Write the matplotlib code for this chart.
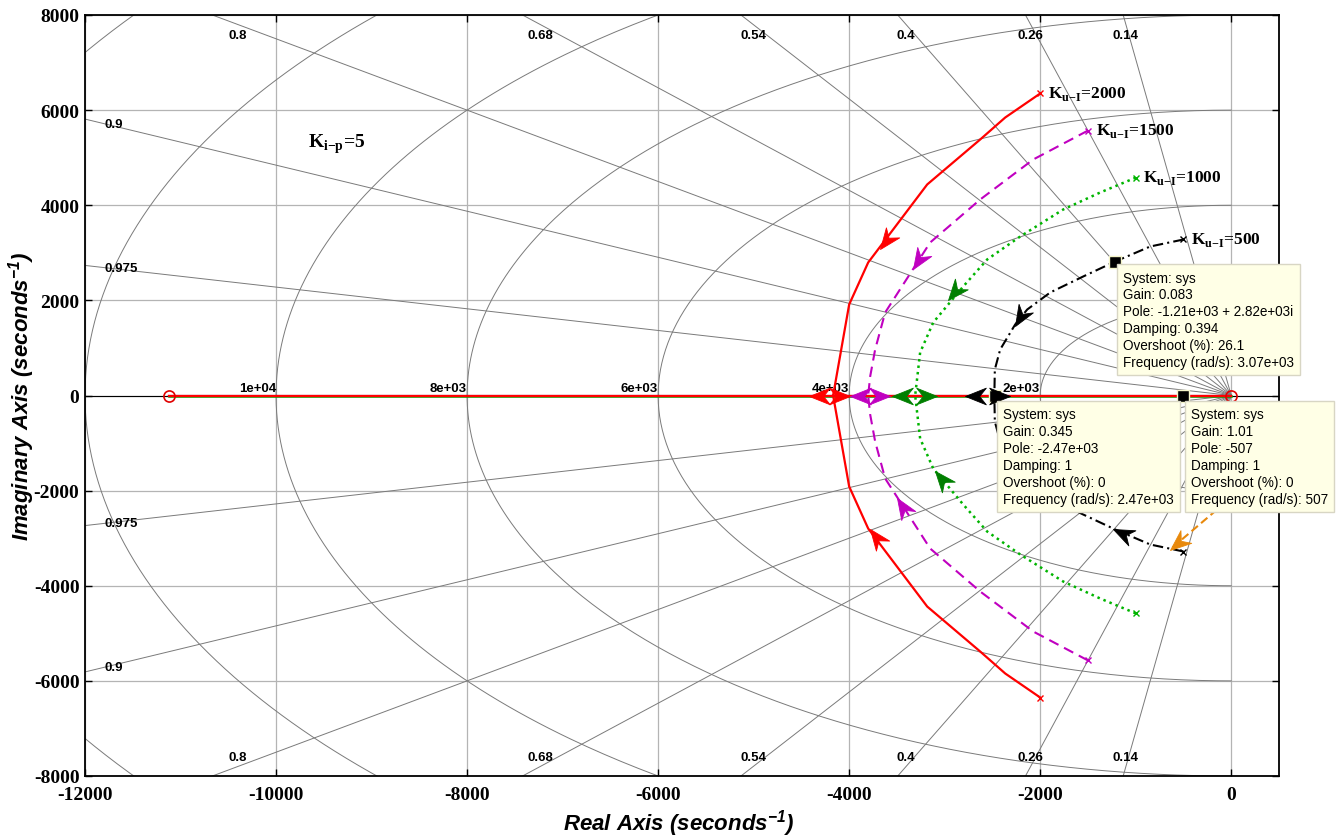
import numpy as np
import matplotlib
matplotlib.use('Agg')
import matplotlib.pyplot as plt
from matplotlib.path import Path
from matplotlib.markers import MarkerStyle
from matplotlib.transforms import Affine2D

plt.rcParams['axes.unicode_minus'] = False

# root locus branches (upper half, pole -> break-in point); lower half is the mirror
red_re = [-2000, -2366, -2628, -3183, -3801, -4000, -4168]
red_im = [6350, 5845, 5383, 4437, 2796, 1913, 0]
mag_re = [-1500, -2073, -2628, -3152, -3623, -3728, -3780, -3801]
mag_im = [5570, 4962, 4121, 3217, 1745, 967, 400, 0]
grn_re = [-1000, -1372, -1759, -2209, -2555, -2806, -3120, -3257, -3309]
grn_im = [4580, 4268, 3911, 3343, 2860, 2292, 1535, 904, 0]
blk_re = [-500, -848, -1215, -1550, -1895, -2136, -2262, -2419, -2475, -2480]
blk_im = [3280, 3133, 2817, 2502, 2166, 1808, 1493, 967, 547, 0]

zeros_re = [-11120, 0]
gains = ['2000', '1500', '1000', '500']

# arrow tips for each system (red, magenta, green, black)
arrow_up_re = [-3675, -3335, -2963, -2262]
arrow_up_im = [3070, 2650, 2018, 1451]
arrow_lo_re = [-3780, -3497, -3099, -1236]
arrow_lo_im = [-2817, -2145, -1577, -2817]
arrow_left = [-4419, -3990, -3550, -2785]
arrow_right = [-3990, -3571, -3079, -2314]

# extra orange branch piece
org_re = [-150, -640]
org_im = [-2400, -3238]

# sgrid
zetas = [0.14, 0.26, 0.4, 0.54, 0.68, 0.8, 0.9, 0.975]
zeta_labels = ['0.14', '0.26', '0.4', '0.54', '0.68', '0.8', '0.9', '0.975']
wns = [2000, 4000, 6000, 8000, 10000, 12000, 14000]
wn_labels = ['2e+03', '4e+03', '6e+03', '8e+03', '1e+04', '', '']

# data tips
tip_re = [-1215, -2470, -507]
tip_im = [2817, 0, 0]
tip_text = [
    'System: sys\nGain: 0.083\nPole: -1.21e+03 + 2.82e+03i\nDamping: 0.394\nOvershoot (%): 26.1\nFrequency (rad/s): 3.07e+03',
    'System: sys\nGain: 0.345\nPole: -2.47e+03\nDamping: 1\nOvershoot (%): 0\nFrequency (rad/s): 2.47e+03',
    'System: sys\nGain: 1.01\nPole: -507\nDamping: 1\nOvershoot (%): 0\nFrequency (rad/s): 507',
]
tip_box_re = [-1131, -2387, -419]
tip_box_im = [2628, -252, -252]

fig = plt.figure(figsize=(13.41, 8.37), dpi=100, facecolor='w')
ax = fig.add_axes([85/1341, 1-777/837, (1279-85)/1341, (777-16)/837])
ax.set_xlim(-12000, 500)
ax.set_ylim(-8000, 8000)

# regular grid
ax.set_xticks(np.arange(-12000, 1, 2000))
ax.set_yticks(np.arange(-8000, 8001, 2000))
for v in np.arange(-12000, 1, 2000):
    ax.axvline(v, color='#b4b4b4', lw=0.9, zorder=0)
for v in np.arange(-8000, 8001, 2000):
    ax.axhline(v, color='#b4b4b4', lw=0.9, zorder=0)

# damping lines + labels
sg = dict(color='#7a7a7a', lw=0.7, zorder=1)
lab = dict(fontsize=9.5, fontweight='bold', family='Liberation Sans', zorder=2)
for z, zl in zip(zetas, zeta_labels):
    th = np.arccos(z)
    t = np.tan(th)
    ax.plot([0, -20000*np.cos(th)], [0, 20000*np.sin(th)], **sg)
    ax.plot([0, -20000*np.cos(th)], [0, -20000*np.sin(th)], **sg)
    if 11800*t > 7800:
        ax.text(-7800/t, 7590, zl, ha='center', va='center', **lab)
        ax.text(-7800/t, -7610, zl, ha='center', va='center', **lab)
    else:
        ax.text(-11800, 11800*t, zl, ha='left', va='center', **lab)
        ax.text(-11800, -11800*t, zl, ha='left', va='center', **lab)

# natural frequency circles + labels
tt = np.linspace(np.pi/2, 3*np.pi/2, 400)
for w, wl in zip(wns, wn_labels):
    ax.plot(w*np.cos(tt), w*np.sin(tt), **sg)
    if wl:
        ax.text(-w, 40, wl, ha='right', va='bottom', **lab)
ax.axhline(0, color='k', lw=0.8, zorder=1)

# arrow head marker
arrow_path = Path([(0, 0), (-1, 0.4), (-0.68, 0), (-1, -0.4), (0, 0)],
                  [Path.MOVETO, Path.LINETO, Path.LINETO, Path.LINETO, Path.CLOSEPOLY])


def disp_angle(dx, dy):
    p0 = ax.transData.transform((0, 0))
    p1 = ax.transData.transform((dx, dy))
    return np.degrees(np.arctan2(p1[1]-p0[1], p1[0]-p0[0]))


def draw_arrow(x, y, ang, c):
    ms = MarkerStyle(arrow_path, transform=Affine2D().rotate_deg(ang))
    ax.plot([x], [y], marker=ms, markersize=30, color=c, mec=c, mew=0.6, zorder=6)


def seg_dir(re, im, x, y):
    best, d = None, 1e18
    for i in range(len(re)-1):
        a = np.array([re[i], im[i]], float)
        b = np.array([re[i+1], im[i+1]], float)
        ab = b - a
        s = np.clip(np.dot([x, y] - a, ab) / np.dot(ab, ab), 0, 1)
        dist = np.hypot(*(a + s*ab - [x, y]))
        if dist < d:
            d, best = dist, ab
    return best


systems = [
    (red_re, red_im, '#ff0000', '#ff0000', '-', 1.6),
    (mag_re, mag_im, '#c000c0', '#c000c0', (0, (5, 3)), 1.5),
    (grn_re, grn_im, '#00b400', '#007f00', (0, (1, 1.6)), 1.8),
    (blk_re, blk_im, 'k', 'k', (0, (5, 2, 1, 2)), 1.5),
]

# real-axis parts (red drawn last, on top)
for re, im, c, ac, ls, lw in systems[::-1]:
    ax.plot([zeros_re[0], zeros_re[1]], [0, 0], color=c, lw=lw, zorder=3)

for k, (re, im, c, ac, ls, lw) in enumerate(systems):
    im_lo = [-v for v in im]
    ax.plot(re, im, color=c, ls=ls, lw=lw, zorder=4)
    ax.plot(re, im_lo, color=c, ls=ls, lw=lw, zorder=4)
    ax.plot([re[0], re[0]], [im[0], im_lo[0]], ls='none', marker='x', ms=5, mew=1, color=c, zorder=5)
    d = seg_dir(re, im, arrow_up_re[k], arrow_up_im[k])
    draw_arrow(arrow_up_re[k], arrow_up_im[k], disp_angle(*d), ac)
    d = seg_dir(re, im_lo, arrow_lo_re[k], arrow_lo_im[k])
    draw_arrow(arrow_lo_re[k], arrow_lo_im[k], disp_angle(*d), ac)
    draw_arrow(arrow_left[k], 0, 180, ac)
    draw_arrow(arrow_right[k], 0, 0, ac)
    ax.text(re[0] + 80, im[0] - 80, 'K$_{\\mathregular{u{-}I}}$=' + gains[k], family='Liberation Serif',
            fontweight='bold', fontsize=12.5, ha='left', va='baseline', zorder=7)

ax.plot(org_re, org_im, color='#e8890c', ls=(0, (4, 2)), lw=1.5, zorder=4)
draw_arrow(org_re[1], org_im[1], disp_angle(org_re[1]-org_re[0], org_im[1]-org_im[0]), '#e8890c')

ax.plot(zeros_re, [0, 0], ls='none', marker='o', ms=8, mfc='none', mec='#e00000', mew=1.2, zorder=6)

ax.text(-9665, 5235, 'K$_{\\mathregular{i{-}p}}$=5', family='Liberation Serif', fontweight='bold',
        fontsize=14, ha='left', va='baseline')

# data tips
ax.plot(tip_re, tip_im, ls='none', marker='s', ms=8, color='k', mec='#f4f4c8', mew=1, zorder=5)
for bx, by, txt in zip(tip_box_re, tip_box_im, tip_text):
    ax.text(bx, by, txt, ha='left', va='top', fontsize=9.75, family='Liberation Sans',
            linespacing=1.26, zorder=8, clip_on=False,
            bbox=dict(boxstyle='square,pad=0.45', fc='#ffffe6', ec='#d8d6c4', lw=1))

# axes styling
ax.tick_params(direction='in', length=5, width=1, top=True, right=True)
ax.tick_params(axis='x', pad=7)
ax.tick_params(axis='y', pad=4)
for lbl in ax.get_xticklabels() + ax.get_yticklabels():
    lbl.set_family('Liberation Serif')
    lbl.set_fontweight('bold')
    lbl.set_fontsize(14)
for s in ax.spines.values():
    s.set_linewidth(1.3)
ax.set_xlabel('Real Axis (seconds$^{\\mathregular{-1}}$)', family='Liberation Sans', fontweight='bold',
              style='italic', fontsize=16)
ax.set_ylabel('Imaginary Axis (seconds$^{\\mathregular{-1}}$)', family='Liberation Sans', fontweight='bold',
              style='italic', fontsize=16)
ax.xaxis.set_label_coords(0.497, -0.041)
ax.yaxis.set_label_coords(-0.040, 0.5)

fig.savefig('out.png', dpi=100)
